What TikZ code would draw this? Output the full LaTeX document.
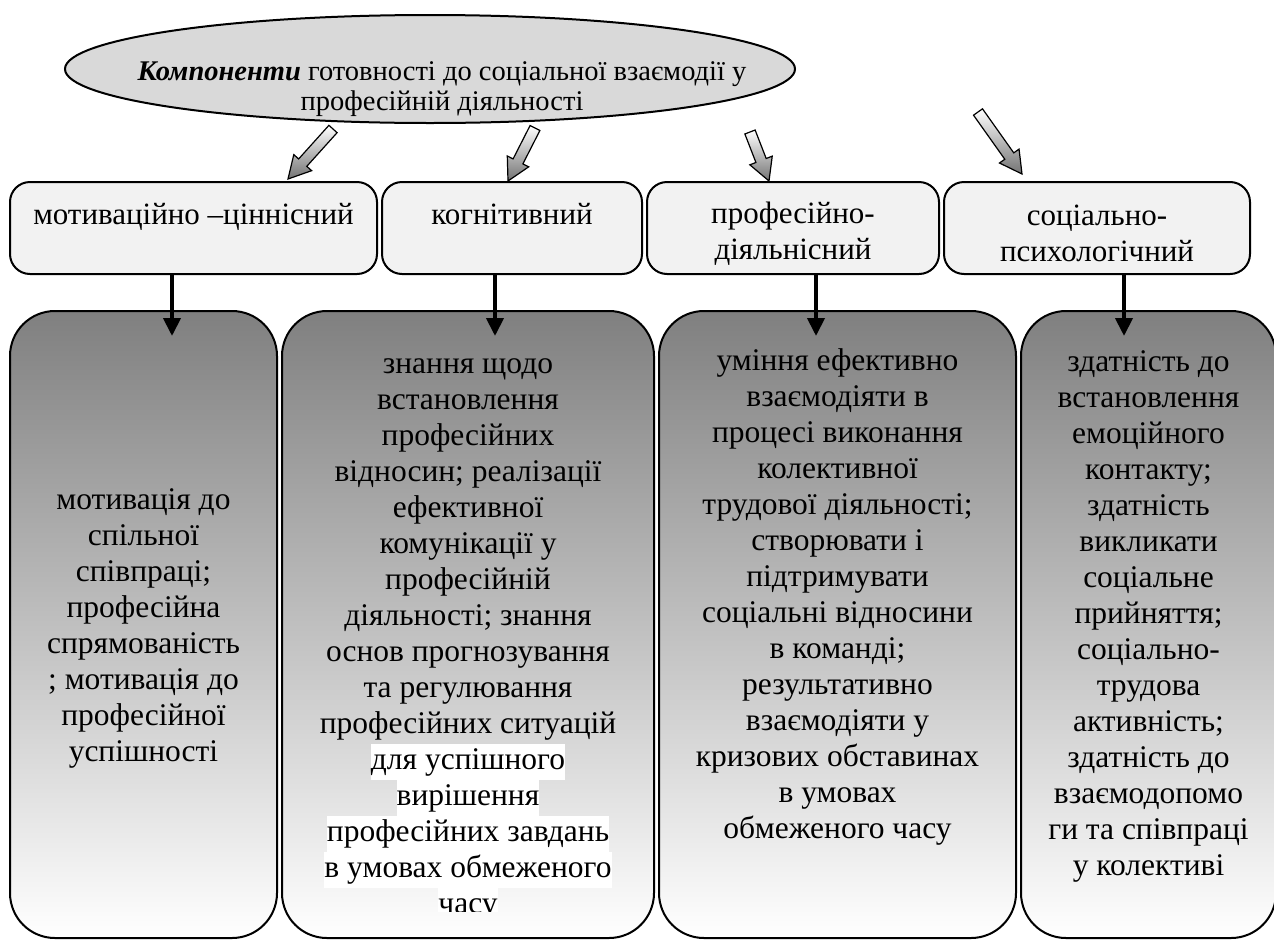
\documentclass[tikz,border=0pt]{standalone}
\usepackage{fontspec}
\setmainfont{Liberation Serif}
\usetikzlibrary{shapes.geometric,arrows.meta,positioning,calc}

\newcommand\whiteline[1]{{\setlength{\fboxsep}{0pt}\colorbox{white}{\strut#1}}}

\tikzset{
  topbox/.style={draw, line width=2pt, fill=black!5, rounded corners=20pt,
    minimum height=92pt, inner sep=0pt},
  toptext/.style={align=center, inner sep=0pt, anchor=north, font=\fontsize{31}{36}\selectfont},
  lowbox/.style={draw, line width=2pt, top color=black!50, bottom color=white,
    rounded corners=45pt, minimum height=627pt, inner sep=0pt},
  lowtext/.style={align=center, inner sep=0pt, font=\fontsize{31.5}{36}\selectfont},
  downarrow/.style={line width=4pt, -{Triangle[length=18pt,width=17pt]}},
  blockarrow/.style={draw=black, line width=1.2pt, top color=white, bottom color=black!55},
}

\begin{document}
\begin{tikzpicture}[x=1pt,y=-1pt]
        \fill[white] (0,0) rectangle (1274,940);
        \useasboundingbox (0,0) rectangle (1274,940);

        % top ellipse
        \node[ellipse, draw, line width=2pt, fill=black!15, minimum width=730pt,
              minimum height=108pt, inner sep=0pt] (comp) at (430,69) {};
        \node[align=center, font=\fontsize{28.5}{30}\selectfont] (comptext) at (442,89)
              {\textbf{\textit{Компоненти}} готовності до соціальної взаємодії у\\професійній діяльності};

        % second row
        \node[topbox, minimum width=367pt] (motiv) at (193.5,228) {};
        \node[topbox, minimum width=260pt, right=3pt of motiv] (kogn) {};
        \node[topbox, minimum width=292pt, right=3pt of kogn] (prof) {};
        \node[topbox, minimum width=306pt, right=3pt of prof] (soc) {};
        \node[toptext] (motivtext) at ($(motiv.center)+(0,-29)$) {\strut мотиваційно –ціннісний};
        \node[toptext] (kogntext) at ($(kogn.center)+(0,-29)$) {\strut когнітивний};
        \node[toptext] (proftext) at ($(prof.center)+(0,-30)$) {\strut професійно-\\діяльнісний};
        \node[toptext] (soctext) at ($(soc.center)+(0,-28)$) {\strut соціально-\\психологічний};

        % block arrows
        \coordinate (t1) at (333,129);  \coordinate (h1) at (288,179);
        \coordinate (t2) at (535,128);  \coordinate (h2) at (508,181);
        \coordinate (t3) at (750,132);  \coordinate (h3) at (769,181);
        \coordinate (t4) at (978,112);  \coordinate (h4) at (1022,174);
        \foreach \t/\h in {t1/h1,t2/h2,t3/h3,t4/h4}
        {
          \coordinate (b) at ($(\h)!22pt!(\t)$);
          \path[blockarrow] ($(\t)!5.5pt!90:(\h)$) -- ($(b)!5.5pt!90:(\h)$)
            -- ($(b)!12pt!90:(\h)$) -- (\h) -- ($(b)!12pt!-90:(\h)$)
            -- ($(b)!5.5pt!-90:(\h)$) -- ($(\t)!5.5pt!-90:(\h)$) -- cycle;
        }

        % bottom row
        \node[lowbox, minimum width=267pt] (mot) at (143.5,624.5) {};
        \node[lowbox, minimum width=372pt, right=3pt of mot] (know) {};
        \node[lowbox, minimum width=357pt, right=3pt of know] (skill) {};
        \node[lowbox, minimum width=255pt, right=3pt of skill] (able) {};

        \draw[downarrow] ([xshift=-21.5pt]motiv.south) -- ++(0,61);
        \draw[downarrow] ([xshift=-17pt]kogn.south) -- ++(0,61);
        \draw[downarrow] ([xshift=23pt]prof.south) -- ++(0,61);
        \draw[downarrow] ([xshift=27pt]soc.south) -- ++(0,61);

        \node[lowtext] (mottext) at ($(mot.center)+(0,3.5)$)
              {мотивація до\\спільної\\співпраці;\\професійна\\спрямованість\\; мотивація до\\професійної\\успішності};
        \begin{scope}
          \clip (know.north west) rectangle ($(know.east)+(0,287)$);
          \node[lowtext, anchor=north] (knowtext) at ($(know.north)+(0,38)$)
                {\strut знання щодо\\встановлення\\професійних\\відносин; реалізації\\ефективної\\комунікації у\\професійній\\діяльності; знання\\основ прогнозування\\та регулювання\\професійних ситуацій\\\whiteline{для успішного}\\\whiteline{вирішення}\\\whiteline{професійних завдань}\\\whiteline{в умовах обмеженого}\\\whiteline{часу}};
        \end{scope}
        \node[lowtext, anchor=north] (skilltext) at ($(skill.north)+(0,35)$)
              {\strut уміння ефективно\\взаємодіяти в\\процесі виконання\\колективної\\трудової діяльності;\\створювати і\\підтримувати\\соціальні відносини\\в команді;\\результативно\\взаємодіяти у\\кризових обставинах\\в умовах\\обмеженого часу};
        \node[lowtext, anchor=north] (abletext) at ($(able.north)+(0,36)$)
              {\strut здатність до\\встановлення\\емоційного\\контакту;\\здатність\\викликати\\соціальне\\прийняття;\\соціально-\\трудова\\активність;\\здатність до\\взаємодопомо\\ги та співпраці\\у колективі};
      \end{tikzpicture}
\end{document}
